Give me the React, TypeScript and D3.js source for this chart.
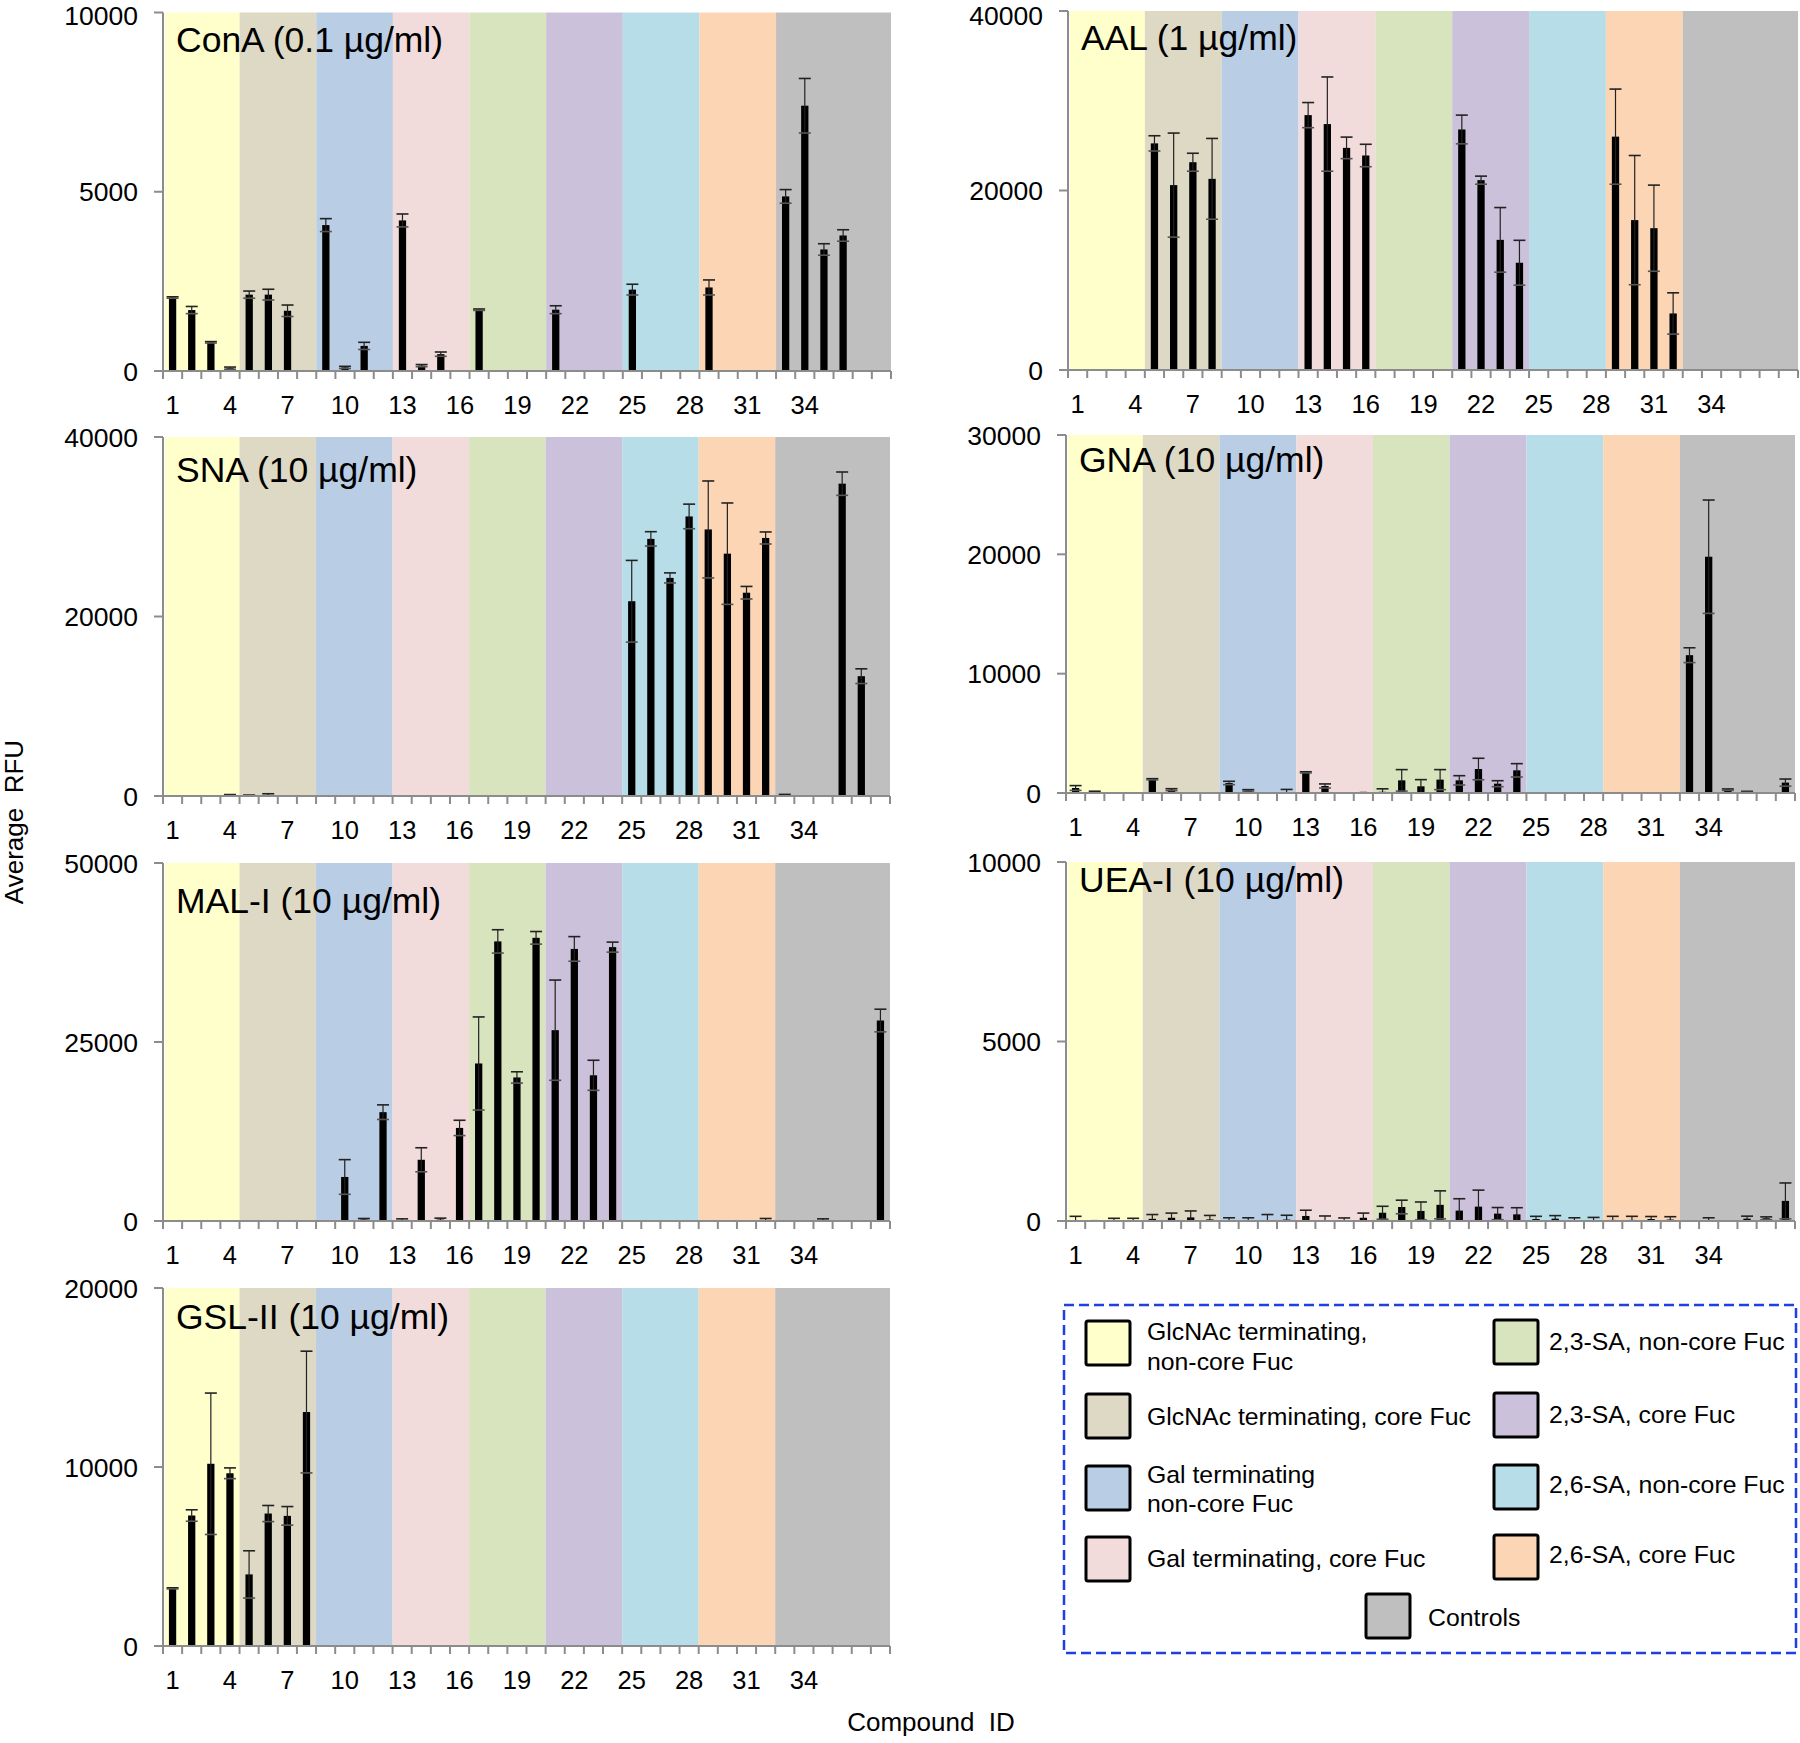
import React from "react";
import * as d3 from "d3";

// ---------- DATA ----------
const compoundIds = [1,2,3,4,5,6,7,8,9,10,11,12,13,14,15,16,17,18,19,20,21,22,23,24,25,26,27,28,29,30,31,32,33,34,35,36,37,38];
const xTickLabels = [1,4,7,10,13,16,19,22,25,28,31,34];

const groupNames = [
  "GlcNAc terminating, non-core Fuc",
  "GlcNAc terminating, core Fuc",
  "Gal terminating non-core Fuc",
  "Gal terminating, core Fuc",
  "2,3-SA, non-core Fuc",
  "2,3-SA, core Fuc",
  "2,6-SA, non-core Fuc",
  "2,6-SA, core Fuc",
  "Controls",
];
const groupFirstId = [1,5,9,13,17,21,25,29,33];
const groupLastId  = [4,8,12,16,20,24,28,32,38];
const groupColors = ["#FFFFCC","#DDD9C4","#B9CDE5","#F2DCDB","#D7E4BD","#CCC1DA","#B7DEE8","#FCD5B5","#BFBFBF"];

const conaValues = [2050,1700,800,80,2130,2130,1680,0,4070,100,700,0,4200,150,470,0,1710,0,0,0,1710,0,0,0,2270,20,0,0,2330,0,0,0,4870,7400,3390,3780,0,0];
const conaErrors = [20,100,20,30,100,150,160,0,180,30,100,0,180,30,60,0,20,0,0,0,110,0,0,0,150,0,0,0,210,0,0,0,190,760,160,160,0,0];

const aalValues = [0,0,0,0,25250,20600,23150,21300,0,0,100,0,28400,27400,24750,23900,0,0,0,100,26800,21150,14500,11950,0,0,0,0,26000,16700,15800,6300,0,0,0,0,0,0];
const aalErrors = [0,0,0,0,850,5800,1000,4500,0,0,0,0,1400,5250,1200,1250,0,0,0,0,1600,450,3600,2500,0,0,0,0,5300,7200,4800,2300,0,0,0,0,0,0];

const snaValues = [0,0,0,100,80,100,0,0,0,60,0,0,0,60,0,0,60,0,60,0,0,0,0,0,21700,28650,24300,31150,29700,27000,22650,28750,80,0,0,34800,13350,100];
const snaErrors = [0,0,0,60,20,150,0,0,0,0,0,0,0,0,0,0,0,0,0,0,0,0,0,0,4550,800,560,1370,5400,5650,700,670,100,0,0,1300,820,0];

const gnaValues = [420,50,0,0,1150,280,0,0,840,220,0,50,1730,590,0,100,100,1060,560,1120,1060,2010,780,1900,0,0,0,50,0,0,0,0,11550,19800,280,100,50,870];
const gnaErrors = [200,100,0,0,50,80,0,0,140,60,0,250,50,170,0,0,250,900,560,840,390,900,250,560,0,0,0,0,0,0,0,0,620,4750,60,40,0,300];

const malValues = [0,0,0,0,0,0,0,0,0,6150,200,15200,100,8550,200,13000,22000,39050,20050,39550,26650,38000,20350,38250,0,0,0,0,50,0,0,50,0,0,100,0,0,28000];
const malErrors = [0,0,0,0,0,0,0,0,0,2420,150,1020,200,1680,200,1070,6500,1630,790,880,7000,1720,2100,700,0,0,0,0,0,0,0,300,0,0,200,0,0,1580];

const ueaValues = [20,30,10,10,60,90,100,45,10,10,10,40,140,10,10,90,230,390,280,450,290,400,205,185,55,65,10,20,30,30,55,40,0,10,20,65,75,560];
const ueaErrors = [110,0,65,65,120,130,180,110,80,80,170,120,160,130,75,130,180,190,250,390,330,460,170,185,75,85,80,80,100,100,70,80,0,80,0,70,40,500];

const gslValues = [3220,7290,10180,9650,4000,7400,7270,13070,0,0,0,0,0,0,0,0,0,0,0,0,0,0,0,0,0,0,0,0,0,0,0,0,0,0,0,0,0,0];
const gslErrors = [30,320,3950,300,1320,450,520,3400,0,0,0,0,0,0,0,0,0,0,0,0,0,0,0,0,0,0,0,0,0,0,0,0,0,0,0,0,0,0];

const panelTitles = ["ConA (0.1 µg/ml)","AAL (1 µg/ml)","SNA (10 µg/ml)","GNA (10 µg/ml)","MAL-I (10 µg/ml)","UEA-I (10 µg/ml)","GSL-II (10 µg/ml)"];
const panelMax = [10000,40000,40000,30000,50000,10000,20000];
const panelYTicks = [[0,5000,10000],[0,20000,40000],[0,20000,40000],[0,10000,20000,30000],[0,25000,50000],[0,5000,10000],[0,10000,20000]];
const panelValues = [conaValues,aalValues,snaValues,gnaValues,malValues,ueaValues,gslValues];
const panelErrors = [conaErrors,aalErrors,snaErrors,gnaErrors,malErrors,ueaErrors,gslErrors];

// ---------- LAYOUT ----------
const layouts = [
  { left: 163, top: 12.5, zero: 371, width: 728, titleDy: 39 },
  { left: 1068, top: 11, zero: 370, width: 730, titleDy: 39 },
  { left: 163, top: 437, zero: 796, width: 727, titleDy: 45 },
  { left: 1066, top: 435, zero: 793, width: 729, titleDy: 37 },
  { left: 163, top: 863, zero: 1221, width: 727, titleDy: 50 },
  { left: 1066, top: 862, zero: 1221, width: 729, titleDy: 30 },
  { left: 163, top: 1288, zero: 1646, width: 727, titleDy: 41 },
];

const FONT = '"Liberation Sans", Arial, Helvetica, sans-serif';
const AXIS = "#8C8C8C";
const Y_FONT = 26.5;

function Panel({ idx }: { idx: number }) {
  const L = layouts[idx];
  const values = panelValues[idx];
  const errors = panelErrors[idx];
  const x = d3.scaleBand<number>().domain(compoundIds).range([L.left, L.left + L.width]).paddingInner(0).paddingOuter(0);
  const y = d3.scaleLinear().domain([0, panelMax[idx]]).range([L.zero, L.top]);
  const bw = x.bandwidth();
  const barW = bw * 0.38;
  const capW = 12;
  return (
    <g>
      {groupColors.map((c, i) => {
        const x0 = (x(groupFirstId[i]) as number) + (i === 0 ? 2 : 0);
        const x1 = (x(groupLastId[i]) as number) + bw;
        return <rect key={"b" + i} x={x0} y={L.top} width={x1 - x0} height={L.zero - L.top} fill={c} />;
      })}
      <text x={L.left + 13} y={L.top + L.titleDy} fontFamily={FONT} fontSize={35.5} fill="#000">{panelTitles[idx]}</text>
      {compoundIds.map((id, i) => {
        const v = values[i];
        const e = errors[i];
        if (v <= 0 && e <= 0) return null;
        const cx = (x(id) as number) + bw / 2;
        const yTop = y(v);
        const yHi = y(v + e);
        const lo = v - e;
        const yLo = y(Math.max(lo, 0));
        return (
          <g key={"bar" + id}>
            {v > 0 && <rect x={cx - barW / 2} y={yTop} width={barW} height={Math.max(L.zero - yTop, 1.2)} fill="#000" />}
            {e > 0 && <line x1={cx} x2={cx} y1={yHi} y2={yLo} stroke="#222" strokeWidth={1.2} />}
            {e > 0 && <line x1={cx - capW / 2} x2={cx + capW / 2} y1={yHi} y2={yHi} stroke="#222" strokeWidth={1.6} />}
            {e > 0 && lo > 0 && <line x1={cx - capW / 2} x2={cx + capW / 2} y1={yLo} y2={yLo} stroke="#555" strokeWidth={1.6} />}
          </g>
        );
      })}
      {/* y axis */}
      <line x1={L.left} x2={L.left} y1={L.top} y2={L.zero} stroke={AXIS} strokeWidth={2} />
      {panelYTicks[idx].map((t) => {
        const base = Math.max(y(t) + 0.36 * Y_FONT, Y_FONT * 0.93);
        return (
          <g key={"yt" + t}>
            <line x1={L.left - 9} x2={L.left} y1={y(t)} y2={y(t)} stroke={AXIS} strokeWidth={2} />
            <text x={L.left - 25} y={base} textAnchor="end" fontFamily={FONT} fontSize={Y_FONT} fill="#000">{t}</text>
          </g>
        );
      })}
      {/* x axis */}
      <line x1={L.left - 9} x2={L.left + L.width} y1={L.zero} y2={L.zero} stroke={AXIS} strokeWidth={2} />
      {compoundIds.concat([compoundIds.length + 1]).map((id, i) => {
        const xx = i < compoundIds.length ? (x(id) as number) : L.left + L.width;
        return <line key={"xt" + i} x1={xx} x2={xx} y1={L.zero} y2={L.zero + 8} stroke={AXIS} strokeWidth={2} />;
      })}
      {xTickLabels.map((t) => (
        <text key={"xl" + t} x={(x(t) as number) + bw / 2} y={L.zero + 43} textAnchor="middle" fontFamily={FONT} fontSize={25.5} fill="#000">{t}</text>
      ))}
    </g>
  );
}

// legend layout (order of groupNames)
const legendItems = [
  { g: 0, sx: 1086, sy: 1321, tx: 1147, lines: ["GlcNAc terminating,", "non-core Fuc"], ty: [1340, 1370] },
  { g: 1, sx: 1086, sy: 1394, tx: 1147, lines: ["GlcNAc terminating, core Fuc"], ty: [1425] },
  { g: 2, sx: 1086, sy: 1466, tx: 1147, lines: ["Gal terminating", "non-core Fuc"], ty: [1483, 1512] },
  { g: 3, sx: 1086, sy: 1537, tx: 1147, lines: ["Gal terminating, core Fuc"], ty: [1567] },
  { g: 4, sx: 1494, sy: 1320, tx: 1549, lines: ["2,3-SA, non-core Fuc"], ty: [1350] },
  { g: 5, sx: 1494, sy: 1393, tx: 1549, lines: ["2,3-SA, core Fuc"], ty: [1423] },
  { g: 6, sx: 1494, sy: 1465, tx: 1549, lines: ["2,6-SA, non-core Fuc"], ty: [1493] },
  { g: 7, sx: 1494, sy: 1535, tx: 1549, lines: ["2,6-SA, core Fuc"], ty: [1563] },
  { g: 8, sx: 1366, sy: 1594, tx: 1428, lines: ["Controls"], ty: [1626] },
];

function Legend() {
  return (
    <g>
      <rect x={1064} y={1305} width={732} height={348} fill="none" stroke="#1F3FE0" strokeWidth={2.5} strokeDasharray="10 5" />
      {legendItems.map((it) => (
        <g key={"lg" + it.g}>
          <rect x={it.sx} y={it.sy} width={44} height={44} rx={2} fill={groupColors[it.g]} stroke="#000" strokeWidth={3} />
          {it.lines.map((ln, j) => (
            <text key={j} x={it.tx} y={it.ty[j]} fontFamily={FONT} fontSize={24.8} fill="#000">{ln}</text>
          ))}
        </g>
      ))}
    </g>
  );
}

export default function App() {
  return (
    <svg width={1800} height={1743} style={{ position: "absolute", left: 0, top: 0, background: "#fff" }}>
      <rect x={0} y={0} width={1800} height={1743} fill="#fff" />
      {layouts.map((_, i) => <Panel key={i} idx={i} />)}
      <Legend />
      <text transform="translate(23,822) rotate(-90)" textAnchor="middle" fontFamily={FONT} fontSize={26} fill="#000" style={{ whiteSpace: "pre" }}>{"Average  RFU"}</text>
      <text x={931} y={1731} textAnchor="middle" fontFamily={FONT} fontSize={26} fill="#000" style={{ whiteSpace: "pre" }}>{"Compound  ID"}</text>
    </svg>
  );
}
